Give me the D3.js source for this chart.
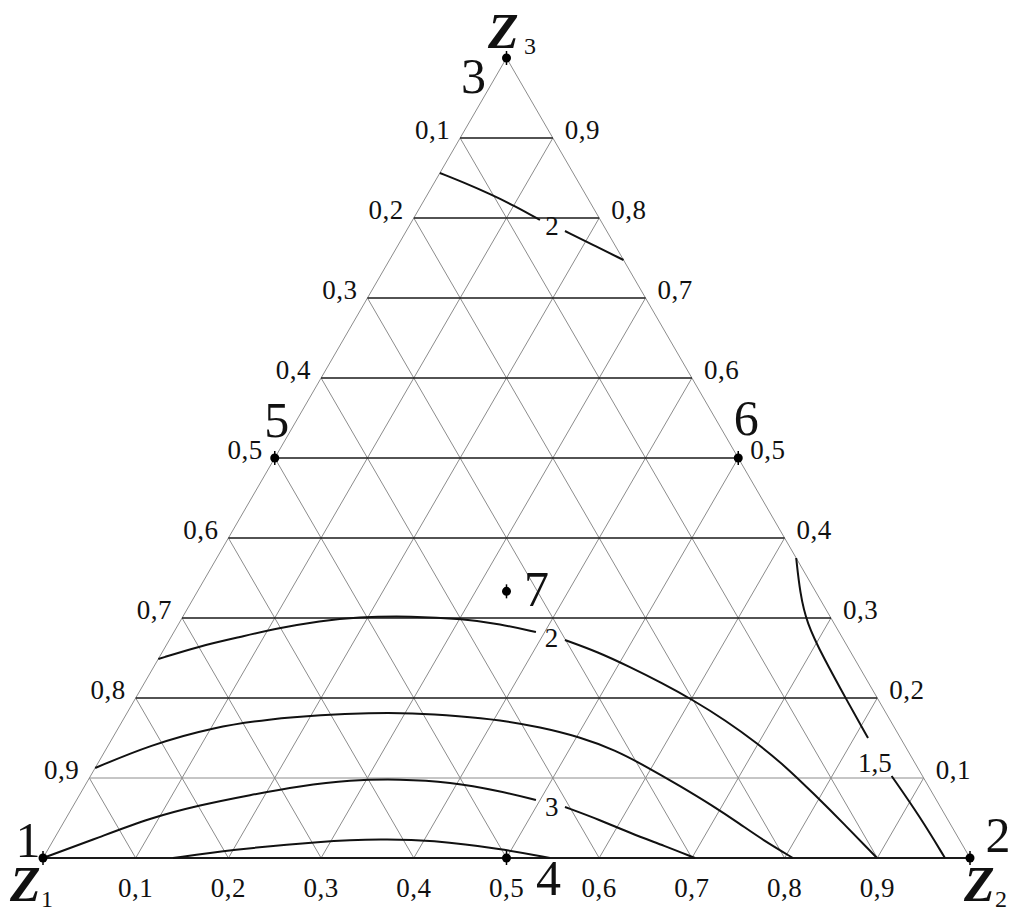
<!DOCTYPE html>
<html>
<head>
<meta charset="utf-8">
<script src="https://cdn.jsdelivr.net/npm/d3@7"></script>
<style>
  body { margin: 0; background: #fff; }
  svg { display: block; }
  text { font-family: "Liberation Serif", "Times New Roman", serif; fill: #111; }
</style>
</head>
<body>
<svg id="chart" width="1015" height="912"></svg>
<script>
// Ternary composition diagram: components z1 (left), z2 (right), z3 (top).
// Every point is given as [z2, z3]; z1 = 1 - z2 - z3.

const gridLevels = [0.1, 0.2, 0.3, 0.4, 0.5, 0.6, 0.7, 0.8, 0.9];

// Iso-lines of the property over the composition triangle (null = break for the label)
const isoLineTop2 = [[0.0, 0.85625], [0.0333, 0.84375], [0.0672, 0.83], [0.1017, 0.815],
                     [0.1373, 0.7975], null,
                     [0.1712, 0.78375], [0.2102, 0.76625], [0.2525, 0.7475]];
const isoLine2 = [[0.0, 0.24875], [0.0369, 0.265], [0.0744, 0.27625], [0.1108, 0.2875],
                  [0.1507, 0.29625], [0.1881, 0.30125], [0.2457, 0.3025], [0.3048, 0.29875],
                  [0.3467, 0.2925], [0.3905, 0.2825], null,
                  [0.4268, 0.2725], [0.4699, 0.2575], [0.5138, 0.23875], [0.5583, 0.21875],
                  [0.6024, 0.1975], [0.6494, 0.1725], [0.6983, 0.14375], [0.7429, 0.115],
                  [0.790, 0.08125], [0.8446, 0.04125], [0.8997, 0.0]];
const isoLineMid = [[0.0, 0.1125], [0.0448, 0.14125], [0.1026, 0.16375], [0.158, 0.17375],
                    [0.2105, 0.17875], [0.2621, 0.18125], [0.3064, 0.18125], [0.361, 0.1775],
                    [0.4067, 0.1725], [0.4542, 0.16375], [0.5037, 0.15125], [0.5495, 0.135],
                    [0.5947, 0.11375], [0.6422, 0.09], [0.6903, 0.065], [0.7306, 0.0425],
                    [0.7654, 0.0225], [0.809, 0.0]];
const isoLine3 = [[0.0, 0.0], [0.0484, 0.02625], [0.0904, 0.05], [0.1363, 0.06625],
                  [0.1839, 0.07875], [0.2322, 0.09], [0.2824, 0.0975], [0.3357, 0.09875],
                  [0.3915, 0.095], [0.4511, 0.08375], [0.4955, 0.0725], null,
                  [0.5312, 0.06375], [0.5771, 0.0475], [0.6176, 0.03125], [0.6635, 0.015],
                  [0.7033, 0.0]];
const isoLineLow = [[0.1402, 0.0], [0.1967, 0.01], [0.2914, 0.02125], [0.3549, 0.02375],
                    [0.4062, 0.0225], [0.4906, 0.01125], [0.5469, 0.0]];
const isoLine15 = [[0.625, 0.375], [0.651, 0.3313], [0.6769, 0.2938], [0.7156, 0.2516],
                   [0.7682, 0.1975], [0.815, 0.15], null,
                   [0.8642, 0.1025], [0.9202, 0.0516], [0.973, 0.0]];
const isoLines = [isoLineTop2, isoLine2, isoLineMid, isoLine3, isoLineLow, isoLine15];

// Iso-line values and where they are written
const isoValues = [2, 2, 3, 1.5];
const isoValuePoints = [[0.154, 0.790], [0.411, 0.275], [0.517, 0.0638], [0.838, 0.1188]];

// Design points
const designIds = ["1", "2", "3", "4", "5", "6", "7"];
const designPoints = [[0, 0], [1, 0], [0, 1], [0.5, 0], [0, 0.5], [0.5, 0.5], [1 / 3, 1 / 3]];

// ---------------------------------------------------------------------------
const svg = d3.select("#chart");
const x = d3.scaleLinear().domain([0, 1]).range([43, 970]);
const y = d3.scaleLinear().domain([0, 1]).range([858, 58]);
const proj = d => [x(d[0] + d[1] / 2), y(d[1])];

const fmt = d3.formatLocale({ decimal: ",", thousands: " ", grouping: [3], currency: ["", ""] }).format(".1f");

const grid = svg.append("g");
const gray = "#8c8c8c";

function seg(g, a, b, stroke, w) {
  const p = proj(a), q = proj(b);
  g.append("line").attr("x1", p[0]).attr("y1", p[1]).attr("x2", q[0]).attr("y2", q[1])
    .attr("stroke", stroke).attr("stroke-width", w);
}

// slanted grid lines (constant z2 and constant z1)
gridLevels.forEach(k => {
  seg(grid, [k, 0], [k, 1 - k], gray, 1);
  seg(grid, [1 - k, 0], [0, 1 - k], gray, 1);
});
// triangle sides
seg(grid, [0, 0], [0, 1], gray, 1);
seg(grid, [1, 0], [0, 1], gray, 1);
// horizontal lines of constant z3
gridLevels.forEach(t => {
  const light = t === 0.1;
  seg(grid, [0, t], [1 - t, t], light ? gray : "#1a1a1a", light ? 1 : 1.6);
});
seg(grid, [0, 0], [1, 0], "#1a1a1a", 2);

// tick labels
const ticks = svg.append("g").attr("font-size", 27).attr("letter-spacing", 0.5);
gridLevels.forEach(k => {
  ticks.append("text").attr("x", x(k)).attr("y", 897).attr("text-anchor", "middle").text(fmt(k));
});
gridLevels.forEach(t => {
  const l = proj([0, t]), r = proj([1 - t, t]);
  const lpad = t === 0.5 ? 12 : 10;
  ticks.append("text").attr("x", l[0] - lpad).attr("y", l[1] + 1).attr("text-anchor", "end").text(fmt(1 - t));
  ticks.append("text").attr("x", r[0] + 12).attr("y", r[1] + 1).attr("text-anchor", "start").text(fmt(t));
});

// iso-lines
const line = d3.line()
  .defined(d => d !== null)
  .x(d => proj(d)[0]).y(d => proj(d)[1])
  .curve(d3.curveBasis);
svg.append("g").selectAll("path").data(isoLines).join("path")
  .attr("d", line).attr("fill", "none").attr("stroke", "#111").attr("stroke-width", 2);

svg.append("g").attr("font-size", 27).selectAll("text").data(isoValues).join("text")
  .attr("x", (d, i) => proj(isoValuePoints[i])[0])
  .attr("y", (d, i) => proj(isoValuePoints[i])[1] + 9)
  .attr("text-anchor", "middle")
  .text(d => fmt(d).replace(",0", ""));

// design points
const pts = svg.append("g");
designPoints.forEach(d => {
  const [px, py] = proj(d);
  pts.append("circle").attr("cx", px).attr("cy", py).attr("r", 4.5).attr("fill", "#000");
  pts.append("line").attr("x1", px).attr("x2", px).attr("y1", py - 7).attr("y2", py + 7)
    .attr("stroke", "#000").attr("stroke-width", 1.5);
});
const labelOffsets = [[-15, -1], [28, -6], [-33, 35], [42, 37], [2, -21], [8, -23], [30, 15]];
const ptLabels = svg.append("g").attr("font-size", 50).attr("text-anchor", "middle");
designIds.forEach((id, i) => {
  const [px, py] = proj(designPoints[i]);
  ptLabels.append("text").attr("x", px + labelOffsets[i][0]).attr("y", py + labelOffsets[i][1]).text(id);
});

// component names
function compName(cx, cy, sub, sx, sy) {
  svg.append("text").attr("x", cx).attr("y", cy).attr("font-size", 50)
    .attr("font-weight", "bold").attr("font-style", "italic").text("Z");
  svg.append("text").attr("x", sx).attr("y", sy).attr("font-size", 24).text(sub);
}
compName(10, 901, "1", 41, 907);
compName(964, 901, "2", 995, 907);
compName(488, 48, "3", 524, 54);
</script>
</body>
</html>
